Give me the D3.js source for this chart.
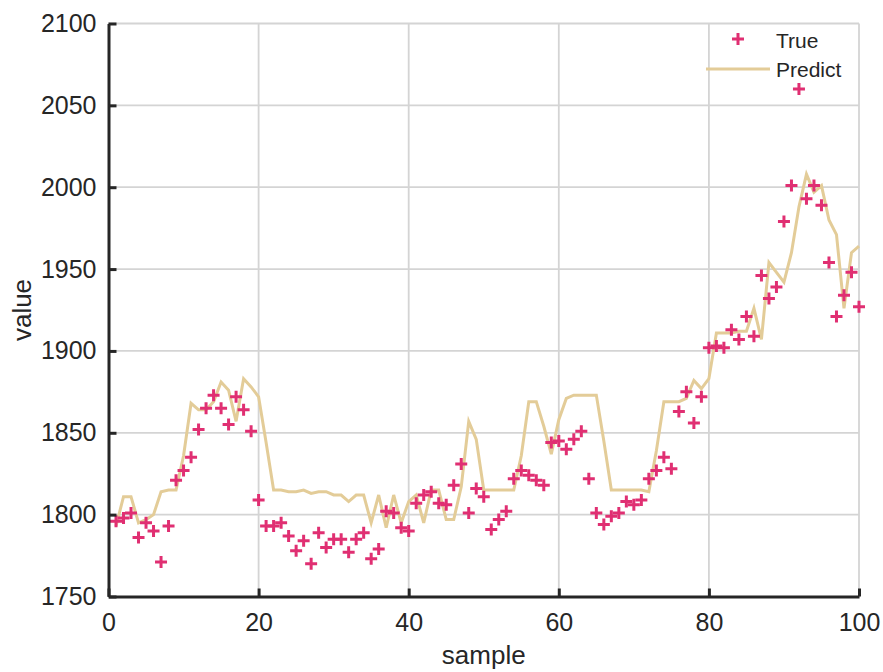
<!DOCTYPE html>
<html>
<head>
<meta charset="utf-8">
<script src="https://cdn.jsdelivr.net/npm/d3@7"></script>
<style>
  body { margin: 0; background: #fff; }
  text { font-family: "Liberation Sans", Arial, sans-serif; fill: #262626; }
</style>
</head>
<body>
<div id="chart"></div>
<script>
// sample index 1..100
const samples = d3.range(1, 101);

// true values
const trueValues = [
  1796, 1798, 1801, 1786, 1795, 1790, 1771, 1793, 1821, 1827,
  1835, 1852, 1865, 1873, 1865, 1855, 1872, 1864, 1851, 1809,
  1793, 1793, 1795, 1787, 1778, 1784, 1770, 1789, 1780, 1785,
  1785, 1777, 1785, 1789, 1773, 1779, 1802, 1801, 1792, 1790,
  1807, 1812, 1814, 1807, 1806, 1818, 1831, 1801, 1816, 1811,
  1791, 1797, 1802, 1822, 1827, 1824, 1821, 1818, 1844, 1845,
  1840, 1846, 1851, 1822, 1801, 1794, 1799, 1801, 1808, 1806,
  1809, 1822, 1827, 1835, 1828, 1863, 1875, 1856, 1872, 1902,
  1903, 1902, 1913, 1907, 1921, 1909, 1946, 1932, 1939, 1979,
  2001, 2060, 1993, 2001, 1989, 1954, 1921, 1934, 1948, 1927
];

// predicted values
const predictValues = [
  1793, 1811, 1811, 1795, 1797, 1800, 1814, 1815, 1815, 1836,
  1868, 1864, 1864, 1869, 1881, 1876, 1857, 1883, 1878, 1872,
  1844, 1815, 1815, 1814, 1814, 1815, 1813, 1814, 1814, 1812,
  1812, 1808, 1812, 1812, 1795, 1812, 1792, 1812, 1795, 1808,
  1812, 1795, 1815, 1815, 1797, 1797, 1817, 1857, 1846, 1815,
  1815, 1815, 1815, 1815, 1836, 1869, 1869, 1854, 1837, 1858,
  1871, 1873, 1873, 1873, 1873, 1845, 1815, 1815, 1815, 1815,
  1815, 1814, 1839, 1869, 1869, 1869, 1871, 1882, 1877, 1883,
  1911, 1911, 1911, 1912, 1912, 1926, 1907, 1954, 1948, 1942,
  1960, 1988, 2008, 1997, 2001, 1980, 1971, 1926, 1960, 1964
];

const xTicks = [0, 20, 40, 60, 80, 100];
const yTicks = [1750, 1800, 1850, 1900, 1950, 2000, 2050, 2100];

const width = 883, height = 672;
const margin = {top: 23.5, right: 24, bottom: 75.5, left: 108.5};

const x = d3.scaleLinear().domain([0, 100]).range([margin.left, width - margin.right]);
const y = d3.scaleLinear().domain([1750, 2100]).range([height - margin.bottom, margin.top]);

const svg = d3.select('#chart')
  .append('svg')
  .attr('width', width)
  .attr('height', height);

// grid
svg.append('g')
  .selectAll('line')
  .data(xTicks.slice(1))
  .join('line')
  .attr('x1', d => x(d)).attr('x2', d => x(d))
  .attr('y1', y(1750)).attr('y2', y(2100))
  .attr('stroke', '#d4d4d4').attr('stroke-width', 1.8);

svg.append('g')
  .selectAll('line')
  .data(yTicks.slice(1))
  .join('line')
  .attr('x1', x(0)).attr('x2', x(100))
  .attr('y1', d => y(d)).attr('y2', d => y(d))
  .attr('stroke', '#d4d4d4').attr('stroke-width', 1.8);

// predict line
const line = d3.line()
  .x((d, i) => x(samples[i]))
  .y(d => y(d));

svg.append('path')
  .datum(predictValues)
  .attr('d', line)
  .attr('fill', 'none')
  .attr('stroke', '#e3cc98')
  .attr('stroke-width', 3)
  .attr('stroke-linejoin', 'miter');

// true markers
svg.append('g')
  .selectAll('path')
  .data(trueValues)
  .join('path')
  .attr('transform', (d, i) => `translate(${x(samples[i])},${y(d)})`)
  .attr('d', 'M-6,0H6M0,-6V6')
  .attr('stroke', '#e02f72')
  .attr('stroke-width', 3)
  .attr('fill', 'none');

// axes
const xAxis = d3.axisBottom(x).tickValues(xTicks).tickSizeInner(-8).tickSizeOuter(0).tickPadding(17);
const gx = svg.append('g')
  .attr('transform', `translate(0,${y(1750)})`)
  .call(xAxis);
gx.select('.domain').attr('stroke', '#262626').attr('stroke-width', 3);
gx.selectAll('.tick line').attr('stroke', '#262626').attr('stroke-width', 3);
gx.selectAll('.tick text').style('font-size', '25px').attr('fill', '#262626');

const yAxis = d3.axisLeft(y).tickValues(yTicks).tickFormat(d3.format('d'))
  .tickSizeInner(-8).tickSizeOuter(0).tickPadding(12);
const gy = svg.append('g')
  .attr('transform', `translate(${x(0)},0)`)
  .call(yAxis);
gy.select('.domain').attr('stroke', '#262626').attr('stroke-width', 3);
gy.selectAll('.tick line').attr('stroke', '#262626').attr('stroke-width', 3);
gy.selectAll('.tick text').style('font-size', '25px').attr('fill', '#262626');

// axis labels
svg.append('text')
  .attr('x', (x(0) + x(100)) / 2)
  .attr('y', 664)
  .attr('text-anchor', 'middle')
  .style('font-size', '26px')
  .text('sample');

svg.append('text')
  .attr('transform', `translate(31,${(y(1750) + y(2100)) / 2}) rotate(-90)`)
  .attr('text-anchor', 'middle')
  .style('font-size', '26px')
  .text('value');

// legend
const legend = svg.append('g');
legend.append('path')
  .attr('d', 'M732,39H744M738,33V45')
  .attr('stroke', '#e02f72')
  .attr('stroke-width', 3);
legend.append('text')
  .attr('x', 776).attr('y', 48)
  .style('font-size', '21px')
  .text('True');
legend.append('line')
  .attr('x1', 706).attr('x2', 770)
  .attr('y1', 69).attr('y2', 69)
  .attr('stroke', '#e3cc98')
  .attr('stroke-width', 3);
legend.append('text')
  .attr('x', 776).attr('y', 77)
  .style('font-size', '21px')
  .text('Predict');
</script>
</body>
</html>
